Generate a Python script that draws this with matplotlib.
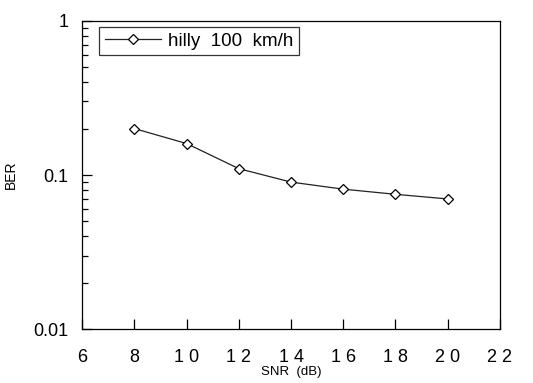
import matplotlib
matplotlib.use("Agg")
import matplotlib.pyplot as plt
from matplotlib.ticker import LogLocator, NullFormatter

plt.rcParams['font.family'] = ['Liberation Sans', 'DejaVu Sans']

snr = [8, 10, 12, 14, 16, 18, 20]
ber = [0.20, 0.16, 0.11, 0.09, 0.081, 0.075, 0.07]
series_label = "hilly  100  km/h"
xticks = [6, 8, 10, 12, 14, 16, 18, 20, 22]
xticklabels = ["6", "8", "1 0", "1 2", "1 4", "1 6", "1 8", "2 0", "2 2"]
yticks = [0.01, 0.1, 1]
yticklabels = ["0.01", "0.1", "1"]

fig = plt.figure(figsize=(5.33, 3.83), dpi=100)
ax = fig.add_axes([0.154, 0.140, 0.784, 0.806])

ax.plot(snr, ber, color='#222222', lw=0.9, marker='D', markersize=5.5,
        markerfacecolor='white', markeredgecolor='black', markeredgewidth=0.9,
        label=series_label)

ax.set_yscale('log')
ax.set_xlim(6, 22)
ax.set_ylim(0.01, 1)
ax.set_xticks(xticks)
ax.set_xticklabels(xticklabels, fontsize=13)
ax.set_yticks(yticks)
ax.set_yticklabels(yticklabels, fontsize=13)
ax.yaxis.set_minor_locator(LogLocator(base=10, subs=range(2, 10)))
ax.yaxis.set_minor_formatter(NullFormatter())

ax.tick_params(axis='x', which='major', direction='in', length=7.5, width=0.9,
               pad=14, top=False)
ax.tick_params(axis='y', which='major', direction='in', length=7.5, width=0.9,
               pad=10, right=False)
ax.tick_params(axis='y', which='minor', direction='in', length=4, width=0.9,
               right=False)
for s in ax.spines.values():
    s.set_linewidth(0.9)

ax.set_xlabel("SNR  (dB)", fontsize=9.5, labelpad=0)
ax.set_ylabel("BER", fontsize=10, labelpad=11)

leg = ax.legend(loc='upper left', bbox_to_anchor=(0.041, 0.98), borderaxespad=0,
                fontsize=13.5, frameon=True, fancybox=False, handlelength=3.0,
                handletextpad=0.35, borderpad=0.3)
leg.get_frame().set_edgecolor('black')
leg.get_frame().set_linewidth(0.9)

fig.savefig("out.png", dpi=100)
